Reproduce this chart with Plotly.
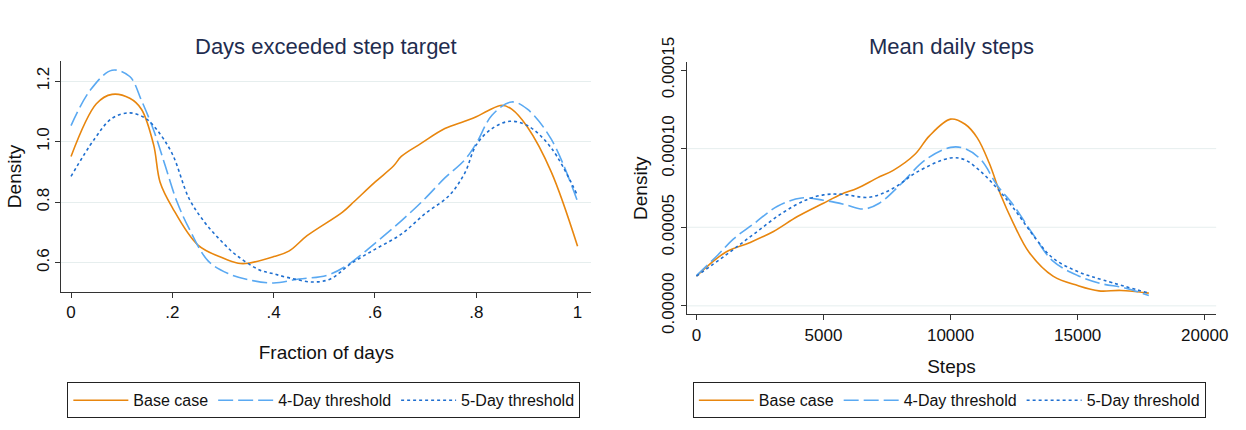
import plotly.graph_objects as go

# ---------------- Data: left panel (Days exceeded step target) ----------------
frac_base_x = [0.0, 0.05, 0.081, 0.116, 0.139, 0.163, 0.176, 0.2, 0.25, 0.3, 0.33, 0.35, 0.4, 0.43,
               0.466, 0.536, 0.559, 0.6, 0.637, 0.652, 0.691, 0.738, 0.777, 0.8, 0.823, 0.851,
               0.87, 0.901, 0.948, 1.0]
frac_base_y = [0.951, 1.125, 1.156, 1.143, 1.107, 0.99, 0.865, 0.782, 0.659, 0.615, 0.598, 0.598,
               0.62, 0.638, 0.689, 0.767, 0.802, 0.866, 0.92, 0.951, 0.994, 1.043, 1.067, 1.082,
               1.102, 1.12, 1.107, 1.048, 0.9, 0.654]

frac_4d_x = [0.0, 0.038, 0.081, 0.116, 0.139, 0.163, 0.186, 0.209, 0.233, 0.271, 0.31, 0.349,
             0.4, 0.45, 0.505, 0.544, 0.6, 0.652, 0.699, 0.738, 0.777, 0.8, 0.831, 0.87, 0.901,
             0.948, 1.0]
frac_4d_y = [1.053, 1.17, 1.236, 1.215, 1.136, 1.038, 0.92, 0.802, 0.713, 0.605, 0.564, 0.544,
             0.533, 0.546, 0.558, 0.59, 0.664, 0.738, 0.812, 0.88, 0.939, 0.994, 1.087, 1.131,
             1.107, 1.008, 0.802]

frac_5d_x = [0.0, 0.046, 0.081, 0.116, 0.147, 0.17, 0.2, 0.233, 0.264, 0.295, 0.326, 0.372, 0.4,
             0.435, 0.477, 0.512, 0.551, 0.6, 0.652, 0.699, 0.746, 0.777, 0.8, 0.831, 0.866,
             0.901, 0.948, 1.0]
frac_5d_y = [0.885, 1.008, 1.077, 1.095, 1.077, 1.038, 0.959, 0.812, 0.733, 0.674, 0.625, 0.576,
             0.563, 0.548, 0.536, 0.546, 0.595, 0.644, 0.694, 0.762, 0.821, 0.895, 0.989, 1.043,
             1.067, 1.053, 0.979, 0.821]

# ---------------- Data: right panel (Mean daily steps) ----------------
steps_base_x = [0, 1147, 2090, 3032, 3975, 4996, 5703, 6331, 7117, 7745, 8609, 9159, 10000,
                10573, 11044, 11516, 11987, 12458, 13087, 14030, 15000, 15835, 16700, 17800]
steps_base_y = [1.89e-5, 3.41e-5, 4.02e-5, 4.73e-5, 5.68e-5, 6.53e-5, 7.10e-5, 7.48e-5, 8.14e-5,
                8.62e-5, 9.66e-5, 1.08e-4, 1.188e-4, 1.155e-4, 1.07e-4, 9.1e-5, 7.0e-5, 5.3e-5,
                3.41e-5, 1.89e-5, 1.29e-5, 9.5e-6, 9.8e-6, 8.1e-6]

steps_4d_x = [0, 833, 1461, 2247, 3189, 4132, 4996, 5860, 6567, 7195, 8059, 9002, 10000, 10573,
              11201, 11830, 12458, 13243, 14030, 15000, 15914, 16857, 17800]
steps_4d_y = [1.93e-5, 3.22e-5, 4.26e-5, 5.21e-5, 6.34e-5, 6.86e-5, 6.72e-5, 6.44e-5, 6.16e-5,
              6.53e-5, 7.77e-5, 9.28e-5, 1.008e-4, 1.0e-4, 9.28e-5, 7.67e-5, 6.44e-5, 4.55e-5,
              2.84e-5, 1.93e-5, 1.42e-5, 1.14e-5, 6.6e-6]

steps_5d_x = [0, 1147, 2247, 3346, 4289, 4996, 5703, 6803, 7745, 8687, 10000, 10573, 11201,
              11830, 12458, 13400, 14030, 15000, 16071, 17800]
steps_5d_y = [1.89e-5, 3.22e-5, 4.55e-5, 5.87e-5, 6.72e-5, 7.06e-5, 7.10e-5, 6.91e-5, 7.48e-5,
              8.52e-5, 9.41e-5, 9.28e-5, 8.52e-5, 7.48e-5, 6.25e-5, 4.17e-5, 3.03e-5, 2.18e-5,
              1.61e-5, 8.1e-6]

series_names = ["Base case", "4-Day threshold", "5-Day threshold"]

left_xticks = [0, 0.2, 0.4, 0.6, 0.8, 1.0]
left_xticktext = ["0", ".2", ".4", ".6", ".8", "1"]
left_yticks = [0.6, 0.8, 1.0, 1.2]
left_yticktext = ["0.6", "0.8", "1.0", "1.2"]

right_xticks = [0, 5000, 10000, 15000, 20000]
right_xticktext = ["0", "5000", "10000", "15000", "20000"]
right_yticks = [0, 0.00005, 0.0001, 0.00015]
right_yticktext = ["0.00000", "0.00005", "0.00010", "0.00015"]
right_grid = [0, 0.00005, 0.0001]

# ---------------- Styles ----------------
FONT = "Liberation Sans, Arial, sans-serif"
C_BASE = "#E8860E"
C_4D = "#5AA9F2"
C_5D = "#1F6FD0"
styles = [
    dict(color=C_BASE, width=1.6, dash="solid"),
    dict(color=C_4D, width=1.6, dash="15px,5px"),
    dict(color=C_5D, width=1.6, dash="3px,3px"),
]

fig = go.Figure()

left_data = [(frac_base_x, frac_base_y), (frac_4d_x, frac_4d_y), (frac_5d_x, frac_5d_y)]
right_data = [(steps_base_x, steps_base_y), (steps_4d_x, steps_4d_y), (steps_5d_x, steps_5d_y)]

for i, (xs, ys) in enumerate(left_data):
    fig.add_trace(go.Scatter(x=xs, y=ys, mode="lines", name=series_names[i],
                             line=dict(**styles[i], shape="spline", smoothing=1.0),
                             xaxis="x", yaxis="y", legend="legend"))
for i, (xs, ys) in enumerate(right_data):
    fig.add_trace(go.Scatter(x=xs, y=ys, mode="lines", name=series_names[i],
                             line=dict(**styles[i], shape="spline", smoothing=1.0),
                             xaxis="x2", yaxis="y2", legend="legend2"))

W, H = 1246, 430
L_x0, L_x1, L_y0, L_y1 = 62, 597, 39.3, 297.7
R_x0, R_x1, R_y0, R_y1 = 693.5, 1228, 40.7, 322.7

axis_common = dict(showline=True, linecolor="#333333", linewidth=1, ticks="outside",
                   ticklen=5, tickcolor="#333333", zeroline=False,
                   tickfont=dict(family=FONT, size=17, color="#111111"),
                   title_font=dict(family=FONT, size=19, color="#111111"))

legend_common = dict(orientation="h", xanchor="left", yanchor="top",
                     bordercolor="#222222", borderwidth=1, bgcolor="white",
                     font=dict(family=FONT, size=16, color="#111111"),
                     itemwidth=55, tracegroupgap=0)

fig.update_layout(
    width=W, height=H,
    margin=dict(l=0, r=0, t=0, b=0),
    paper_bgcolor="white", plot_bgcolor="white",
    font=dict(family=FONT, color="#111111"),
    xaxis=dict(domain=[L_x0 / W, L_x1 / W], range=[-0.019, 1.027], anchor="y",
               tickvals=left_xticks, ticktext=left_xticktext, showgrid=False,
               title=dict(text="Fraction of days", standoff=24), **axis_common),
    yaxis=dict(domain=[(H - L_y1) / H, (H - L_y0) / H], range=[0.5035, 1.266], anchor="x",
               tickvals=left_yticks, ticktext=left_yticktext, tickangle=-90,
               showgrid=True, gridcolor="#E6EEEE", gridwidth=1,
               title=dict(text="Density", standoff=6), **axis_common),
    xaxis2=dict(domain=[R_x0 / W, R_x1 / W], range=[-378, 20450], anchor="y2",
                tickvals=right_xticks, ticktext=right_xticktext, showgrid=False,
                title=dict(text="Steps", standoff=16), **axis_common),
    yaxis2=dict(domain=[(H - R_y1) / H, (H - R_y0) / H], range=[-0.0000053, 0.0001549],
                anchor="x2", tickvals=right_yticks, ticktext=right_yticktext, tickangle=-90,
                showgrid=False,
                title=dict(text="Density", standoff=6), **axis_common),
    legend=dict(x=68 / W, y=(H - 399) / H, **legend_common),
    legend2=dict(x=699.6 / W, y=(H - 399) / H, **legend_common),
    showlegend=True,
)

# horizontal gridlines for the right panel (no line at the top tick)
for g in right_grid:
    fig.add_shape(type="line", xref="x2 domain", yref="y2", x0=0, x1=1, y0=g, y1=g,
                  line=dict(color="#E6EEEE", width=1), layer="below")

# Panel titles
fig.add_annotation(text="Days exceeded step target", xref="paper", yref="paper",
                   x=(L_x0 + L_x1) / 2 / W, y=(H - 23) / H, showarrow=False,
                   xanchor="center", yanchor="middle",
                   font=dict(family=FONT, size=22, color="#1F2D4F"))
fig.add_annotation(text="Mean daily steps", xref="paper", yref="paper",
                   x=(R_x0 + R_x1) / 2 / W, y=(H - 23) / H, showarrow=False,
                   xanchor="center", yanchor="middle",
                   font=dict(family=FONT, size=22, color="#1F2D4F"))

fig.write_html("out.html")
